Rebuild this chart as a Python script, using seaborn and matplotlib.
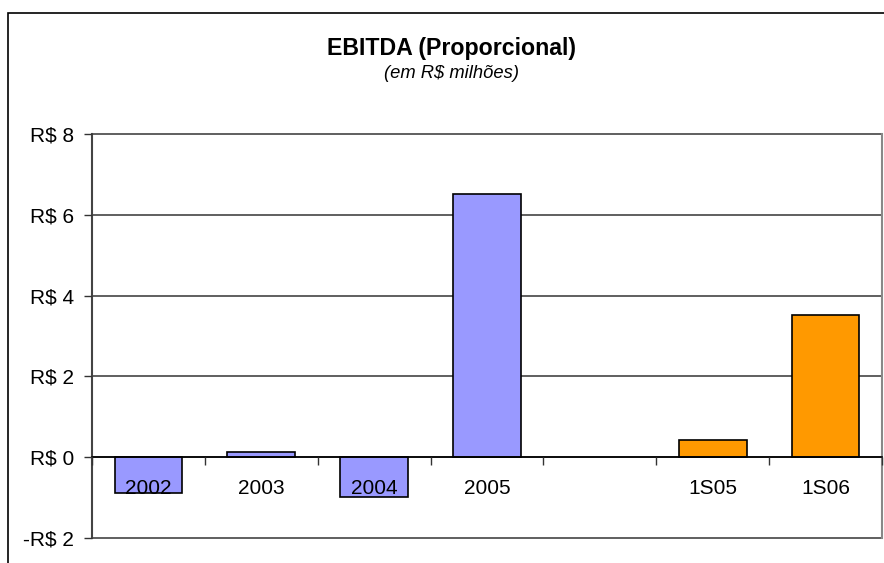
import matplotlib
matplotlib.use("Agg")
import matplotlib.pyplot as plt
from matplotlib.patches import Rectangle
import numpy as np
import pandas as pd
import seaborn as sns

# dados (R$ milhões)
periodos = ["2002", "2003", "2004", "2005", " ", "1S05", "1S06"]
ebitda = [-0.88, 0.14, -0.99, 6.51, np.nan, 0.43, 3.53]
grupo = ["ano", "ano", "ano", "ano", "ano", "semestre", "semestre"]
y_ticks = [-2, 0, 2, 4, 6, 8]
y_labels = ["-R$ 2", "R$ 0", "R$ 2", "R$ 4", "R$ 6", "R$ 8"]

sns.set_theme(style="white")
plt.rcParams["font.family"] = ["Liberation Sans", "DejaVu Sans"]
plt.rcParams["text.color"] = "black"

df = pd.DataFrame({"periodo": periodos, "ebitda": ebitda, "grupo": grupo})
cores = {"ano": "#9999FF", "semestre": "#FF9900"}

fig = plt.figure(figsize=(8.84, 5.63), dpi=100)
ax = fig.add_axes([92 / 884, 25 / 563, 790 / 884, 404 / 563])

sns.barplot(data=df, x="periodo", y="ebitda", hue="grupo", order=periodos,
            palette=cores, saturation=1, dodge=False, width=0.6,
            edgecolor="black", linewidth=1.2, legend=False, ax=ax, zorder=2)

n = len(periodos)
ax.set_xlim(-0.5, n - 0.5)
ax.set_ylim(y_ticks[0], y_ticks[-1])
ax.set_axisbelow(False)

# linhas de grade atrás das barras
for y in y_ticks:
    ax.axhline(y, color="#444444", lw=1.2, zorder=0.5, clip_on=False)

ax.set_yticks(y_ticks)
ax.set_yticklabels(y_labels)
ax.tick_params(axis="y", left=True, length=6, width=1, color="#333333",
               pad=7, labelsize=15, labelcolor="black")

# marcas entre categorias, rótulos no centro
ax.set_xticks(np.arange(n + 1) - 0.5)
ax.set_xticklabels([])
ax.set_xticks(np.arange(n), minor=True)
ax.set_xticklabels(periodos, minor=True)
ax.tick_params(axis="x", which="major", bottom=True, length=6, width=1,
               color="#333333")
ax.tick_params(axis="x", which="minor", bottom=True, length=0, pad=15.5,
               labelsize=15, labelcolor="black")
ax.set_xlabel("")
ax.set_ylabel("")

ax.spines["top"].set_visible(False)
ax.spines["bottom"].set_position(("data", 0))
ax.spines["bottom"].set_color("black")
ax.spines["bottom"].set_linewidth(1.2)
ax.spines["left"].set_color("#444444")
ax.spines["left"].set_linewidth(1.5)
ax.spines["right"].set_color("#888888")
ax.spines["right"].set_linewidth(1.5)

fig.text(452 / 884, 1 - 48 / 563, "EBITDA (Proporcional)", ha="center",
         va="center", fontsize=16.7, fontweight="bold", color="black")
fig.text(452 / 884, 1 - 73 / 563, "(em R$ milhões)", ha="center",
         va="center", fontsize=13.2, style="italic", color="black")

# moldura externa do gráfico
fig.add_artist(Rectangle((8 / 884, -0.1), 1.0, (563 - 13) / 563 + 0.1,
                         transform=fig.transFigure, fill=False,
                         edgecolor="black", lw=1.2))

fig.savefig("out.png", dpi=100)
